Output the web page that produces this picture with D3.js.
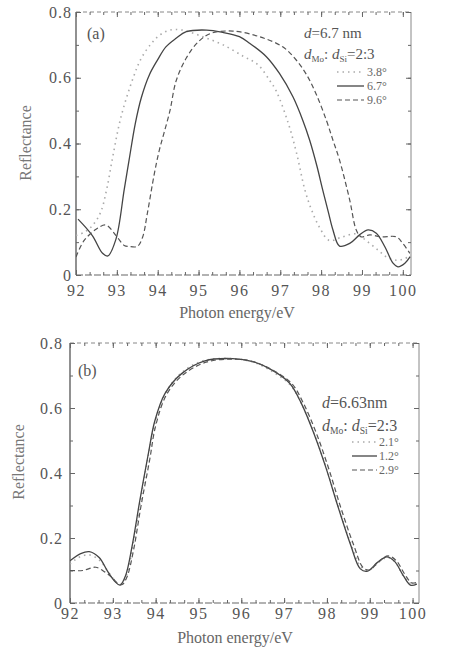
<!DOCTYPE html>
<html lang="en">
<head>
<meta charset="UTF-8">
<title>reflectance</title>
<script src="https://cdn.jsdelivr.net/npm/d3@7"></script>
<style>
  * { margin: 0; padding: 0; }
  body { background: #fff; }
  svg { display: block; font-family: "Liberation Serif", "DejaVu Serif", serif; }
  text { fill: #555; }
</style>
</head>
<body>
<script>
// tick labels
var xTicks = [92, 93, 94, 95, 96, 97, 98, 99, 100]
var yTicks = [0, 0.2, 0.4, 0.6, 0.8]

// panel (a), d = 6.7 nm
var eA38 = [92.0, 92.2, 92.4, 92.6, 92.75, 92.9, 93.1, 93.4, 93.6, 93.85, 94.05, 94.3, 94.6, 95.1, 95.6, 96.1, 96.45, 96.75, 96.9, 97.2, 97.4, 97.6, 97.76, 97.96, 98.2, 98.5, 98.85, 99.1, 99.4, 99.6, 99.85, 100.05, 100.2]
var rA38 = [0.12, 0.13, 0.15, 0.19, 0.26, 0.36, 0.48, 0.60, 0.66, 0.705, 0.73, 0.745, 0.745, 0.725, 0.70, 0.665, 0.64, 0.59, 0.56, 0.46, 0.37, 0.26, 0.20, 0.145, 0.105, 0.115, 0.125, 0.105, 0.075, 0.055, 0.045, 0.05, 0.06]
var eA67 = [92.05, 92.4, 92.65, 92.78, 92.98, 93.18, 93.3, 93.45, 93.6, 93.8, 94.0, 94.2, 94.45, 94.7, 95.2, 95.59, 96.0, 96.25, 96.66, 96.98, 97.31, 97.55, 97.72, 97.9, 98.04, 98.18, 98.29, 98.45, 98.7, 98.94, 99.15, 99.35, 99.56, 99.76, 99.88, 100.05, 100.18]
var rA67 = [0.17, 0.12, 0.066, 0.058, 0.11, 0.26, 0.35, 0.46, 0.54, 0.61, 0.655, 0.694, 0.72, 0.74, 0.745, 0.738, 0.725, 0.705, 0.664, 0.613, 0.542, 0.471, 0.41, 0.33, 0.258, 0.19, 0.137, 0.088, 0.096, 0.122, 0.137, 0.127, 0.086, 0.036, 0.025, 0.036, 0.056]
var eA96 = [92.0, 92.2, 92.5, 92.73, 92.98, 93.18, 93.3, 93.5, 93.63, 93.75, 93.92, 94.04, 94.15, 94.3, 94.45, 94.7, 95.0, 95.3, 95.84, 96.49, 97.06, 97.39, 97.64, 97.88, 98.13, 98.29, 98.45, 98.7, 98.86, 98.98, 99.19, 99.47, 99.84, 100.0, 100.17]
var rA96 = [0.055, 0.105, 0.14, 0.152, 0.12, 0.09, 0.087, 0.087, 0.115, 0.19, 0.31, 0.38, 0.43, 0.50, 0.59, 0.66, 0.71, 0.735, 0.742, 0.725, 0.694, 0.654, 0.61, 0.55, 0.47, 0.41, 0.35, 0.228, 0.137, 0.116, 0.122, 0.116, 0.116, 0.096, 0.066]

// panel (b), d = 6.63 nm
var eB21 = [92.0, 92.2, 92.45, 92.7, 92.9, 93.1, 93.22, 93.35, 93.5, 93.68, 93.86, 94.02, 94.25, 94.6, 95.1, 95.8, 96.3, 96.75, 97.15, 97.42, 97.72, 98.0, 98.27, 98.55, 98.8, 98.97, 99.2, 99.42, 99.6, 99.8, 99.97, 100.12]
var rB21 = [0.12, 0.14, 0.148, 0.13, 0.095, 0.062, 0.06, 0.10, 0.2, 0.34, 0.475, 0.57, 0.65, 0.708, 0.745, 0.752, 0.74, 0.71, 0.67, 0.61, 0.515, 0.41, 0.295, 0.185, 0.11, 0.1, 0.125, 0.14, 0.125, 0.08, 0.06, 0.062]
var eB12 = [92.0, 92.25, 92.45, 92.68, 92.88, 93.05, 93.17, 93.3, 93.45, 93.63, 93.83, 93.98, 94.22, 94.6, 95.15, 95.8, 96.27, 96.74, 97.13, 97.4, 97.7, 97.98, 98.25, 98.55, 98.78, 98.95, 99.18, 99.4, 99.58, 99.78, 99.95, 100.1]
var rB12 = [0.13, 0.152, 0.158, 0.14, 0.097, 0.066, 0.055, 0.085, 0.175, 0.315, 0.46, 0.56, 0.645, 0.705, 0.745, 0.752, 0.743, 0.715, 0.676, 0.615, 0.52, 0.415, 0.30, 0.18, 0.105, 0.098, 0.125, 0.142, 0.128, 0.085, 0.055, 0.058]
var eB29 = [92.0, 92.3, 92.6, 92.82, 92.97, 93.12, 93.22, 93.33, 93.48, 93.66, 93.86, 94.0, 94.25, 94.62, 95.2, 95.85, 96.3, 96.78, 97.18, 97.45, 97.76, 98.05, 98.32, 98.62, 98.85, 99.0, 99.22, 99.43, 99.62, 99.82, 99.98, 100.12]
var rB29 = [0.10, 0.10, 0.11, 0.095, 0.08, 0.06, 0.057, 0.08, 0.16, 0.30, 0.44, 0.545, 0.64, 0.70, 0.742, 0.75, 0.742, 0.713, 0.675, 0.615, 0.52, 0.41, 0.295, 0.18, 0.108, 0.102, 0.128, 0.145, 0.13, 0.088, 0.062, 0.065]

var styles = {
    dotted: { stroke: "#aaa", width: 1.6, dash: "1.5,4" },
    solid:  { stroke: "#444", width: 1.3, dash: null },
    dashed: { stroke: "#555", width: 1.2, dash: "5,3" }
}

var svg = d3.select("body").append("svg")
    .attr("width", 450)
    .attr("height", 650)

function zip(e, r) {
    return e.map(function(v, i) { return [v, r[i]] })
}

function drawPanel(p) {
    var x = d3.scaleLinear().domain([92, p.xmax]).range([p.left, p.right])
    var y = d3.scaleLinear().domain([0, 0.8]).range([p.bottom, p.top])
    var g = svg.append("g")

    var clipId = "clip" + p.tag
    g.append("clipPath").attr("id", clipId)
        .append("rect")
        .attr("x", p.left).attr("y", p.top - 2)
        .attr("width", p.right - p.left).attr("height", p.bottom - p.top + 2)

    // frame
    g.append("line").attr("x1", p.left).attr("x2", p.left).attr("y1", p.top).attr("y2", p.bottom)
        .attr("stroke", "#555").attr("stroke-width", 1.3)
    g.append("line").attr("x1", p.right).attr("x2", p.right).attr("y1", p.top).attr("y2", p.bottom)
        .attr("stroke", "#888").attr("stroke-width", 1)
    g.append("line").attr("x1", p.left).attr("x2", p.right).attr("y1", p.bottom).attr("y2", p.bottom)
        .attr("stroke", "#666").attr("stroke-width", 1.2).attr("stroke-dasharray", "7,2")
    g.append("line").attr("x1", p.left).attr("x2", p.right).attr("y1", p.top).attr("y2", p.top)
        .attr("stroke", "#888").attr("stroke-width", 1).attr("stroke-dasharray", "4,3")

    var xMinor = d3.range(92, p.xmax, 1 / 3)
    var yMinor = d3.range(0, 0.81, 0.1)

    function tickStyle(sel) {
        sel.select(".domain").remove()
        sel.selectAll(".tick line").attr("stroke", "#666")
    }

    // minor ticks
    g.append("g").attr("transform", "translate(0," + p.bottom + ")")
        .call(d3.axisBottom(x).tickValues(xMinor).tickSize(-3).tickFormat(""))
        .call(tickStyle)
    g.append("g").attr("transform", "translate(0," + p.top + ")")
        .call(d3.axisTop(x).tickValues(xMinor).tickSize(-3).tickFormat(""))
        .call(tickStyle)
    g.append("g").attr("transform", "translate(" + p.left + ",0)")
        .call(d3.axisLeft(y).tickValues(yMinor).tickSize(-3).tickFormat(""))
        .call(tickStyle)
    g.append("g").attr("transform", "translate(" + p.right + ",0)")
        .call(d3.axisRight(y).tickValues(yMinor).tickSize(-3).tickFormat(""))
        .call(tickStyle)

    // major ticks with labels
    var xa = g.append("g").attr("transform", "translate(0," + p.bottom + ")")
        .call(d3.axisBottom(x).tickValues(xTicks).tickSize(-5).tickPadding(p.xPad))
        .call(tickStyle)
    var ya = g.append("g").attr("transform", "translate(" + p.left + ",0)")
        .call(d3.axisLeft(y).tickValues(yTicks).tickSize(-5).tickPadding(p.yPad)
            .tickFormat(function(d) { return d === 0 ? "0" : d.toFixed(1) }))
        .call(tickStyle)
    g.append("g").attr("transform", "translate(0," + p.top + ")")
        .call(d3.axisTop(x).tickValues(xTicks).tickSize(-5).tickFormat(""))
        .call(tickStyle)
    g.append("g").attr("transform", "translate(" + p.right + ",0)")
        .call(d3.axisRight(y).tickValues(yTicks).tickSize(-5).tickFormat(""))
        .call(tickStyle)

    xa.selectAll("text").attr("font-size", 16).attr("font-family", "Liberation Serif")
        .attr("letter-spacing", 1.5).style("fill", "#555")
    ya.selectAll("text").attr("font-size", 16).attr("font-family", "Liberation Serif")
        .attr("letter-spacing", 1).style("fill", "#555")

    // curves
    var line = d3.line()
        .x(function(d) { return x(d[0]) })
        .y(function(d) { return y(d[1]) })
        .curve(d3.curveCatmullRom.alpha(0.5))

    p.series.forEach(function(s) {
        var st = styles[s.style]
        g.append("path")
            .attr("clip-path", "url(#" + clipId + ")")
            .attr("d", line(zip(s.e, s.r)))
            .attr("fill", "none")
            .attr("stroke", st.stroke)
            .attr("stroke-width", st.width)
            .attr("stroke-dasharray", st.dash)
    })

    // axis titles
    g.append("text")
        .attr("transform", "translate(" + p.ylabX + "," + p.ylabY + ") rotate(-90)")
        .attr("text-anchor", "middle")
        .attr("font-size", 16)
        .style("fill", "#777")
        .text("Reflectance")
    g.append("text")
        .attr("x", p.xlabX).attr("y", p.xlabY)
        .attr("text-anchor", "middle")
        .attr("font-size", 16)
        .style("fill", "#666")
        .text("Photon energy/eV")

    // panel tag
    g.append("text").attr("x", p.tagX).attr("y", p.tagY)
        .attr("font-size", 16).style("fill", "#555").text("(" + p.tag + ")")

    // annotation
    var t1 = g.append("text").attr("x", p.noteX).attr("y", p.noteY1).attr("font-size", p.noteSize)
    t1.append("tspan").attr("font-style", "italic").text("d")
    t1.append("tspan").text(p.dText)
    var t2 = g.append("text").attr("x", p.noteX).attr("y", p.noteY2).attr("font-size", p.noteSize)
    t2.append("tspan").attr("font-style", "italic").text("d")
    t2.append("tspan").attr("font-size", p.noteSize * 0.6).attr("dy", 3).text("Mo")
    t2.append("tspan").attr("dy", -3).text(": ")
    t2.append("tspan").attr("font-style", "italic").text("d")
    t2.append("tspan").attr("font-size", p.noteSize * 0.6).attr("dy", 3).text("Si")
    t2.append("tspan").attr("dy", -3).text("=2:3")

    // legend
    p.series.forEach(function(s, i) {
        var st = styles[s.style]
        var ly = p.legY[i]
        g.append("line")
            .attr("x1", p.legX1).attr("x2", p.legX2)
            .attr("y1", ly).attr("y2", ly)
            .attr("stroke", st.stroke)
            .attr("stroke-width", st.width)
            .attr("stroke-dasharray", st.dash)
        g.append("text")
            .attr("x", p.legTextX).attr("y", ly + 4)
            .attr("font-size", p.legSize)
            .style("fill", "#666")
            .text(s.label)
    })
}

drawPanel({
    tag: "a", xmax: 100.2,
    left: 76, right: 411, top: 12, bottom: 275,
    xPad: 10, yPad: 4,
    ylabX: 31, ylabY: 143, xlabX: 237, xlabY: 318,
    tagX: 87, tagY: 39,
    noteX: 304, noteY1: 38, noteY2: 59, noteSize: 15, dText: "=6.7 nm",
    legX1: 337, legX2: 364, legTextX: 367, legY: [72, 86, 100], legSize: 12,
    series: [
        { e: eA38, r: rA38, style: "dotted", label: "3.8°" },
        { e: eA67, r: rA67, style: "solid", label: "6.7°" },
        { e: eA96, r: rA96, style: "dashed", label: "9.6°" }
    ]
})

drawPanel({
    tag: "b", xmax: 100.15,
    left: 70, right: 419, top: 343, bottom: 603,
    xPad: 5, yPad: 7,
    ylabX: 24, ylabY: 462, xlabX: 235, xlabY: 643,
    tagX: 78, tagY: 376,
    noteX: 322, noteY1: 408, noteY2: 431, noteSize: 16, dText: "=6.63nm",
    legX1: 352, legX2: 377, legTextX: 379, legY: [442, 456, 470], legSize: 12,
    series: [
        { e: eB21, r: rB21, style: "dotted", label: "2.1°" },
        { e: eB12, r: rB12, style: "solid", label: "1.2°" },
        { e: eB29, r: rB29, style: "dashed", label: "2.9°" }
    ]
})
</script>
</body>
</html>
